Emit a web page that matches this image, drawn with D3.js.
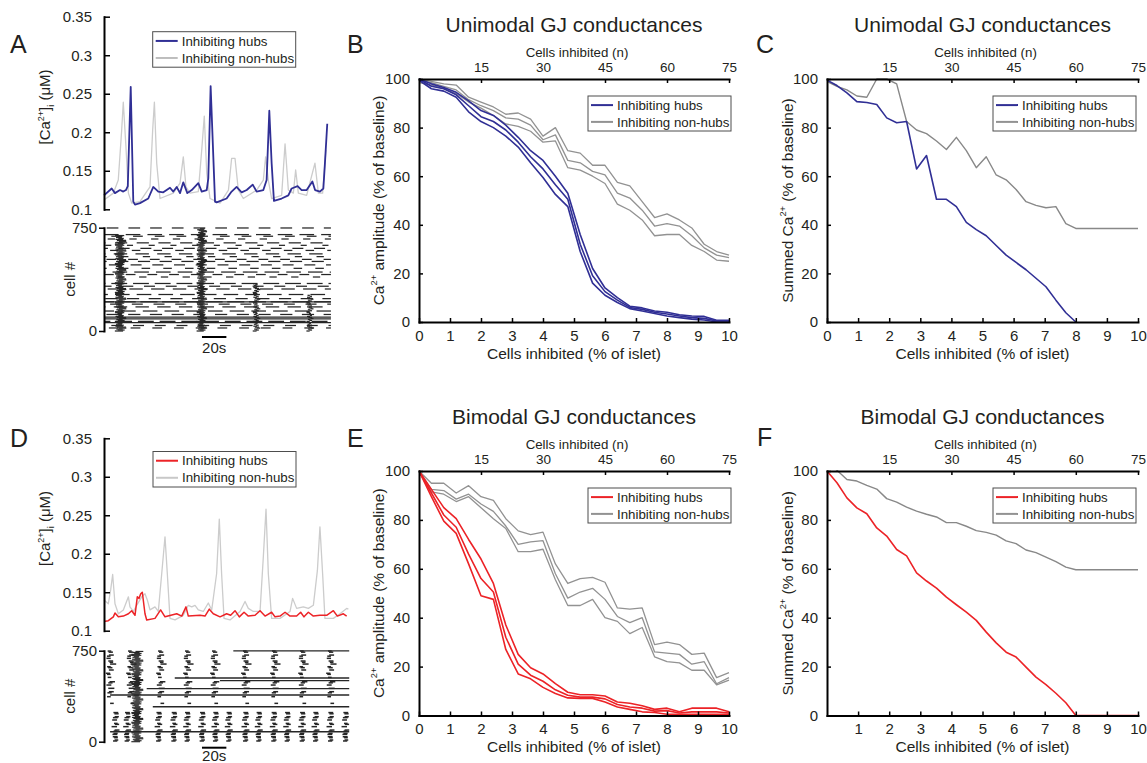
<!DOCTYPE html>
<html><head><meta charset="utf-8">
<script src="https://cdn.jsdelivr.net/npm/d3@7"></script>
<style>
body{margin:0;background:#fff;}
svg{display:block;}
</style></head><body>
<svg id="fig" width="1147" height="763"></svg>
<script>
// ---------------- DATA ----------------
const pctB = [0,0.4,0.8,1.2,1.6,2,2.4,2.8,3.2,3.6,4,4.4,4.8,5.2,5.6,6,6.4,6.8,7.2,7.6,8,8.4,8.8,9.2,9.6,10];
const B_hubU = [100,98,96.5,94.5,91,87,85,81,76,70.5,66.5,60,53,36,22,14,10,6.5,5.8,4.5,4,3,2.5,2.3,0.7,0.7];
const B_hubM = [100,97,96,93.5,89,84.5,82.5,79,74,68,63,56.5,50.5,32,19,12.5,9,6,5.2,4,3.3,2.5,1.8,1.5,0.4,0.4];
const B_hubL = [99.5,96,95,92.5,86.5,82.5,80,76.5,72,65.5,59.5,52.5,47.5,29,16,11,8,5.5,4.5,3.5,2.5,1.8,1.2,0.8,0,0];
const B_nhU = [100,99,98,97.5,92.5,90.5,88.5,85.5,86,83.5,76.5,80,70.5,69.5,64.5,64.5,57.5,56,49.5,43,44.5,42,38.7,32,29,27.5];
const B_nhM = [99.5,98.5,97,95.5,91.5,89,87,84,83.5,81,75,77,66.5,65.5,62,60.5,53,51,46,39.5,40.5,39.5,35.5,30.5,27.5,26.5];
const B_nhL = [98.5,97.5,96,94,90.5,88,85,81.5,80.5,78.5,74,74.5,63.5,62.5,60,57,48.5,46,42,35.5,36,36,31.5,29,25.5,25];

const E_hubU = [100,92.5,85,80.5,72,64,54,37,25,19.5,17,13,9.5,8.5,8.5,8,5.5,5,4,2.5,3,1.5,3,3,3,1.5];
const E_hubM = [100,91,82,77,66,56,50.5,32,21,16.5,14,10.5,8.3,7.5,7.5,6.8,4.5,3.5,3,1.8,2,1,1.5,1.5,1.5,1];
const E_hubL = [100,89.5,79.5,74.5,62,49,47.5,27,17,15,11.5,9,7.2,7,7,5.5,3.5,2.5,1.5,1.2,0.5,0.5,0.5,0.5,0.5,0.5];
const E_nhU = [100,95,95,91,94,89.5,88,80.5,75.5,74,75,62,54,56,56.5,54.5,44,43.5,44,29,30,29,25,25.5,15.5,17.5];
const E_nhM = [100,92.5,92,88.5,90.5,86.5,83.5,77.5,70,71,71.5,58,48,50.5,52,47.5,40.5,38,40,26,25.5,25,21,22,13,15.5];
const E_nhL = [100,91.5,90.5,87.5,89.5,85,80.5,76.5,67,67,68,55.5,45,45,47.5,40,38.5,33.5,36,24,22,21.5,18.5,18.5,12.5,14.5];

const pctC = [0,0.32,0.64,0.96,1.28,1.6,1.92,2.24,2.56,2.88,3.2,3.52,3.84,4.16,4.48,4.8,5.12,5.44,5.76,6.08,6.4,6.72,7.04,7.36,7.68,8,10];
const C_hub = [99.5,97.3,94.3,90.7,90.3,89.5,84,82,82.5,63,68.5,50.5,50.5,47.5,41,38,35.5,31.5,27.5,24.5,21.5,18,14.5,9,3.8,0];
const C_nh = [99,97,95.5,93,92.5,100,100,98,82.5,79,77.5,74.5,71,76,70.5,63.5,68,60.5,58.5,54.5,49.5,48,47,47.5,40.5,38.5,38.5];
const F_hub = [100,95.2,89,84.9,82.5,76.7,73.4,67.9,65.3,58.3,55,52.1,48.4,45.3,42.3,38.9,34.1,29.7,25.9,23.9,19.8,15.7,12.6,9.1,5.2,0,0];
const F_nh = [103.5,100.3,96.5,95.9,94.1,92.6,88.7,87.3,85.2,83.6,82.3,81.2,78.9,78.9,77.4,75.6,74.9,73.8,71.4,70.3,67.7,66.6,64.8,62.9,60.7,59.6,59.6];

const pctTicks = [0,1,2,3,4,5,6,7,8,9,10];
const pctTicksF = [1,2,3,4,5,6,7,8,9,10];
const nTicks = [15,30,45,60,75];
const yTicks = [0,20,40,60,80,100];
const caTicks = [0.1,0.15,0.2,0.25,0.3,0.35];
const cellTicks = [0,750];

const tHubA = [0,6.3,9.0,13.1,15.8,18.0,19.5,21.9,24.0,25.4,29.5,36.3,40.4,44.5,48.6,54.1,56.8,59.6,62.3,65.0,68.3,71.9,77.3,80.1,84.2,85.5,87.4,91.0,92.3,100.5,104.6,108.7,112.8,117.0,121.9,125.1,130.6,133.3,135.5,137.4,139.3,145.6,151.1,153.8,158.7,162.0,166.1,170.8,173.0,177.0,179.8,181.1,183.0];
const vHubA = [0.118,0.127,0.121,0.125,0.123,0.125,0.130,0.259,0.110,0.106,0.108,0.114,0.129,0.123,0.122,0.128,0.123,0.129,0.121,0.135,0.121,0.125,0.134,0.123,0.125,0.140,0.260,0.110,0.109,0.114,0.123,0.129,0.122,0.125,0.132,0.123,0.125,0.138,0.228,0.160,0.111,0.114,0.118,0.127,0.130,0.125,0.125,0.136,0.125,0.123,0.127,0.160,0.211];
const tGreyA = [0,7.7,11.7,14.5,15.8,18,20,22.7,29.5,35,37.7,39.9,41.3,43.2,45.9,56.8,62.3,65,67.2,70.5,77.3,80.1,82.2,84.2,86.9,95.1,102,104.6,107.4,110.1,114.2,125.1,130.6,132.5,134.7,137.4,145.6,148.4,151.1,155.2,157.1,159.3,166.1,172.9,175.7,179.2,181.9];
const vGreyA = [0.112,0.121,0.138,0.203,0.239,0.181,0.121,0.108,0.110,0.123,0.129,0.203,0.239,0.160,0.114,0.121,0.134,0.168,0.129,0.121,0.123,0.177,0.221,0.147,0.114,0.108,0.125,0.166,0.166,0.125,0.114,0.125,0.138,0.168,0.138,0.114,0.118,0.185,0.125,0.121,0.151,0.121,0.118,0.160,0.121,0.121,0.177];

const tGreyD = [0,3.55,5.46,7.1,9.0,11.75,15.85,20,21.3,24,26.8,30.9,33.6,35.5,37.7,41.8,44.5,47.3,50,51.9,54.1,58.2,65,69.1,71.9,74.6,77.3,81.4,85.5,88.3,92.3,94.5,96.4,98.4,103.3,111.5,115.6,118.3,122.4,127.9,130.6,132.8,134.7,137.4,144.3,152.5,154.6,157.9,163.4,167.5,171.6,174.9,177,179.2,181.1,188,193.4,198.9,200.3];
const vGreyD = [0.140,0.135,0.153,0.173,0.135,0.122,0.127,0.144,0.131,0.125,0.133,0.144,0.148,0.140,0.127,0.131,0.125,0.174,0.222,0.174,0.116,0.114,0.120,0.133,0.131,0.133,0.127,0.125,0.136,0.127,0.174,0.245,0.174,0.116,0.114,0.125,0.138,0.129,0.125,0.125,0.196,0.258,0.174,0.116,0.116,0.125,0.142,0.129,0.131,0.129,0.133,0.178,0.235,0.174,0.116,0.116,0.122,0.129,0.128];
const tRedD = [0,3.55,7.65,9.0,11.75,15.85,20,22.7,25.4,27.3,28.7,30.1,31.4,33.6,35,41.8,46.4,50,59.6,63.7,67.2,69.1,78.7,82.8,86.3,89.6,95.1,100.5,103.8,107.4,110.9,114.8,118.3,123.8,127.9,132,137.4,140.2,144.3,148.4,152.5,157.9,161.2,163.9,167.5,171.6,177,182.5,188,191.3,196.2,198.9];
const vRedD = [0.112,0.113,0.118,0.123,0.118,0.119,0.122,0.126,0.120,0.144,0.142,0.148,0.150,0.122,0.114,0.116,0.127,0.118,0.122,0.119,0.131,0.119,0.120,0.119,0.128,0.122,0.118,0.122,0.120,0.126,0.118,0.124,0.119,0.120,0.126,0.119,0.124,0.118,0.119,0.124,0.119,0.119,0.124,0.118,0.124,0.119,0.120,0.120,0.126,0.119,0.122,0.119];

const rowsA = [748,700,688,668,640,622,600,585,560,540,520,505,480,455,428,410,392,345,325,305,265,235,212,195,175,145,120,70,40,22];
const phaseA = [2.2,0,6,3,9,1,12,5,8,14,2,10,4,13,7,0,11,6,15,3,9,1,12,5,8,14,2,10,6,4];
const lenA = [9.6,12,8,6,10,5,9,7,11,6,8,10,9,7,12,8,6,13,9,11,12,10,14,9,11,12,10,13,9,8];
const periodA = 17.8;
const longA = [[100,0,186],[88,0,186],[60,0,186],[212,0,186]];
const burstsA = [[10.5,18,0,700],[77.5,84,0,745],[123.5,127,0,350],[167.5,170.5,0,260]];
const rowsD = [747,738,714,705,687,665,655,640,618,610,591,564,555,530,494,485,467,440,412,403,371,316,240,230,206,198,179,151,143,124,96,88,69,60,41,33,14,6];
const offD = [0,0.8,1,-0.6,-1,0.5,1.5,2,-0.5,0.4,1,-1.5,-0.6,0,1.5,0.5,-1,0.5,1,-0.2,-0.5,2,0,0.8,1,-0.4,-1,0.5,1.2,-1.5,1,0.2,0,-0.8,-0.5,0.6,1,-0.3];
const lenD = [3,3.5,4,3,3.5,4,3,5,3,3.5,4,3.5,3,3,4.5,3.5,4,5,4,3.5,3,3,4,3.5,3.5,4,4,3,3.5,4.5,4,3,3.5,4,4,3,3,3.5];
const colsUpperD = [3,19.7,44.3,66.4,88.5,113.9,137.7,160.7,183.6];
const colsLowerD = [7.7,17.2,43,55.5,66.4,78.7,89.6,100.5,114.2,125.1,137.4,148.4,160.7,171.6,183.9,196.2];
const longD = [[748,106,201],[525,58,201],[503,95,201],[438,35,201],[385,5,201],[288,40,201],[82,5,201]];
const burstsD = [[24,32,0,750]];
const jitter = [-1.6,0.8,-0.4,1.8,0.1,-1.1,1.2,-0.7,0.5,-1.4];
const fillPart = [0.9,0.65,1,0.75,0.55,0.85,0.7,1,0.6,0.8];
const scaleBar = [80.3, 20];

// ---------------- DRAWING ----------------
const FONT = '"Liberation Sans", Arial, Helvetica, sans-serif';
const INK = '#231f20';
const BLUE = '#302f95', RED = '#ec2327', GREY = '#929292', LGREY = '#cccccc';
const svg = d3.select('#fig').attr('font-family', FONT);
svg.append('rect').attr('width',1147).attr('height',763).attr('fill','#fff');

function styleAxis(sel, fs){
  sel.attr('font-family', FONT).attr('font-size', fs);
  sel.select('.domain').attr('stroke','#000').attr('stroke-width',2).attr('stroke-linecap','square');
  sel.selectAll('.tick line').attr('stroke','#000').attr('stroke-width',1.5);
  sel.selectAll('.tick text').attr('fill', INK);
}
function txt(x, y, s, fs, anchor){
  return svg.append('text').attr('x',x).attr('y',y).attr('font-size',fs)
    .attr('text-anchor',anchor||'middle').attr('fill',INK).text(s);
}
function rotLabel(cx, cy, fs, parts){
  const t = svg.append('text').attr('transform',`translate(${cx},${cy}) rotate(-90)`)
    .attr('text-anchor','middle').attr('font-size',fs).attr('fill',INK);
  let shift = 0;
  parts.forEach(([s,type])=>{
    const sp = t.append('tspan').text(s);
    let target = 0, size = fs;
    if(type==='sup'){ target = -fs*0.42; size = fs*0.6; }
    if(type==='sub'){ target = fs*0.25; size = fs*0.6; }
    sp.attr('dy', target - shift).attr('font-size', size);
    shift = target;
  });
}
function legend(x, y, w, h, items, fs){
  svg.append('rect').attr('x',x).attr('y',y).attr('width',w).attr('height',h)
    .attr('fill','#fff').attr('stroke','#4d4d4d').attr('stroke-width',1);
  const rows = [y + h*0.26, y + h*0.74];
  items.forEach((it,i)=>{
    svg.append('line').attr('x1',x+3).attr('x2',x+25).attr('y1',rows[i]).attr('y2',rows[i])
      .attr('stroke',it.color).attr('stroke-width',2);
    svg.append('text').attr('x',x+29).attr('y',rows[i]).attr('dy','0.35em').attr('font-size',fs)
      .attr('fill',INK).text(it.label);
  });
}
function curvePanel(o){
  const x = d3.scaleLinear().domain([0,10]).range([o.x0,o.x1]);
  const xn = d3.scaleLinear().domain([0,75]).range([o.x0,o.x1]);
  const y = d3.scaleLinear().domain([0,100]).range([o.y1,o.y0]);
  const cid = 'clip'+o.id;
  svg.append('clipPath').attr('id',cid).append('rect')
    .attr('x',o.x0).attr('y',o.y0-1).attr('width',o.x1-o.x0+1).attr('height',o.y1-o.y0+3);
  const line = d3.line().x(d=>x(d[0])).y(d=>y(d[1]));
  const lg = svg.append('g').attr('clip-path',`url(#${cid})`);
  o.series.forEach(s=>{
    lg.append('path').datum(s.v.map((v,i)=>[s.x[i],v])).attr('d',line)
      .attr('fill','none').attr('stroke',s.color).attr('stroke-width',s.w).attr('stroke-linejoin','round');
  });
  svg.append('g').attr('transform',`translate(0,${o.y1})`)
    .call(d3.axisBottom(x).tickValues(o.xticks).tickSizeInner(-4).tickSizeOuter(0).tickPadding(8))
    .call(styleAxis,15);
  svg.append('g').attr('transform',`translate(0,${o.y0})`)
    .call(d3.axisTop(xn).tickValues(nTicks).tickSizeInner(-4).tickSizeOuter(0).tickPadding(7))
    .call(styleAxis,13.5);
  svg.append('g').attr('transform',`translate(${o.x0},0)`)
    .call(d3.axisLeft(y).tickValues(yTicks).tickSizeInner(-4).tickSizeOuter(0).tickPadding(9))
    .call(styleAxis,15);
  const cx = (o.x0+o.x1)/2;
  txt(cx, o.y0-47, o.title, 21);
  txt(cx+3, o.y0-22, 'Cells inhibited (n)', 13.3);
  txt(cx, o.y1+36.5, 'Cells inhibited (% of islet)', 15.5);
  rotLabel(o.ylx, (o.y0+o.y1)/2, 15.5, o.ylabel);
  legend(o.lx, o.ly, 143, 35, o.legend, 13.3);
}
function tracePanel(o){
  const x = d3.scaleLinear().domain([0,o.T]).range([104, 104+o.T*1.22]);
  const y = d3.scaleLinear().domain([0.1,0.35]).range([o.yb, o.yt]);
  const line = d3.line().x((d)=>x(d[0])).y(d=>y(d[1]));
  o.series.forEach(s=>{
    svg.append('path').datum(s.t.map((t,i)=>[t,s.v[i]])).attr('d',line)
      .attr('fill','none').attr('stroke',s.color).attr('stroke-width',s.w).attr('stroke-linejoin','round');
  });
  svg.append('g').attr('transform','translate(104,0)')
    .call(d3.axisLeft(y).tickValues(caTicks).tickSizeInner(-6).tickSizeOuter(0).tickPadding(12).tickFormat(d=>String(d)))
    .call(styleAxis,15);
  rotLabel(50, (o.yt+o.yb)/2 - 6, 15, [['[Ca',''],['2+','sup'],[']',''],['i','sub'],[' (μM)','']]);
  legend(o.lx, o.ly, 143, 35.5, o.legend, 13.3);
  const yr = d3.scaleLinear().domain([0,750]).range([o.rb, o.rt]);
  svg.append('g').selectAll('line').data(o.segs).join('line')
    .attr('x1',d=>x(Math.max(0,d.t0))).attr('x2',d=>x(Math.min(o.T,d.t1)))
    .attr('y1',d=>yr(d.c)).attr('y2',d=>yr(d.c))
    .attr('stroke','#262626').attr('stroke-width',d=>d.w||1.25);
  svg.append('g').attr('transform','translate(104,0)')
    .call(d3.axisLeft(yr).tickValues(cellTicks).tickSizeInner(5).tickSizeOuter(0).tickPadding(2))
    .call(styleAxis,15);
  rotLabel(75, (o.rt+o.rb)/2, 15, [['cell #','']]);
  const sb0 = x(scaleBar[0]), sb1 = x(scaleBar[0]+scaleBar[1]);
  svg.append('line').attr('x1',sb0).attr('x2',sb1).attr('y1',o.rb+6).attr('y2',o.rb+6)
    .attr('stroke','#000').attr('stroke-width',2);
  txt((sb0+sb1)/2, o.sbText, '20s', 15);
}
function burstMarks(s, bursts, step, w){
  bursts.forEach(([a,b,lo,hi])=>{
    d3.range(lo,hi,step).forEach((c,j)=>{
      const jt = jitter[j%jitter.length], fp = fillPart[(j*3)%fillPart.length];
      s.push({t0:a+jt, t1:a+jt+(b-a)*fp, c, w});
    });
  });
}
function segsA(){
  const s = [];
  rowsA.forEach((c,i)=>{
    for(let t=phaseA[i]-periodA; t<186; t+=periodA){ s.push({t0:t, t1:t+lenA[i], c}); }
  });
  longA.forEach(([c,a,b])=>s.push({t0:a,t1:b,c}));
  burstMarks(s, burstsA, 7, 1.25);
  return s.filter(d=>d.t1>0);
}
function segsD(){
  const s = [];
  rowsD.forEach((c,i)=>{
    (c>300 ? colsUpperD : colsLowerD).forEach(t=> s.push({t0:t+offD[i], t1:t+offD[i]+lenD[i], c, w:1.5}));
  });
  longD.forEach(([c,a,b])=>s.push({t0:a,t1:b,c,w:1.3}));
  burstMarks(s, burstsD, 8, 1.15);
  return s;
}

tracePanel({T:186, yt:16.7, yb:209.3, rt:227.7, rb:331, sbText:353,
  series:[{t:tGreyA,v:vGreyA,color:LGREY,w:1.3},{t:tHubA,v:vHubA,color:BLUE,w:1.8}],
  lx:152.7, ly:31.7, legend:[{label:'Inhibiting hubs',color:BLUE},{label:'Inhibiting non-hubs',color:'#bdbdbd'}],
  segs:segsA()});
tracePanel({T:201, yt:438.3, yb:630.7, rt:650.7, rb:741.7, sbText:761,
  series:[{t:tGreyD,v:vGreyD,color:LGREY,w:1.3},{t:tRedD,v:vRedD,color:RED,w:1.5}],
  lx:153, ly:451.5, legend:[{label:'Inhibiting hubs',color:RED},{label:'Inhibiting non-hubs',color:'#c8c8c8'}],
  segs:segsD()});

const caAmp = [['Ca',''],['2+','sup'],[' amplitude (% of baseline)','']];
const caSum = [['Summed Ca',''],['2+','sup'],[' (% of baseline)','']];

curvePanel({id:'B', x0:419, x1:729, y0:79, y1:322, xticks:pctTicks, title:'Unimodal GJ conductances',
  ylabel:caAmp, ylx:383.5, lx:588, ly:96,
  legend:[{label:'Inhibiting hubs',color:BLUE},{label:'Inhibiting non-hubs',color:GREY}],
  series:[
    {x:pctB,v:B_nhU,color:GREY,w:1.3},{x:pctB,v:B_nhM,color:GREY,w:1.3},{x:pctB,v:B_nhL,color:GREY,w:1.3},
    {x:pctB,v:B_hubU,color:BLUE,w:1.6},{x:pctB,v:B_hubM,color:BLUE,w:1.6},{x:pctB,v:B_hubL,color:BLUE,w:1.6}]});
curvePanel({id:'C', x0:827, x1:1138, y0:79, y1:322, xticks:pctTicks, title:'Unimodal GJ conductances',
  ylabel:caSum, ylx:792.5, lx:993, ly:96,
  legend:[{label:'Inhibiting hubs',color:BLUE},{label:'Inhibiting non-hubs',color:GREY}],
  series:[{x:pctC,v:C_nh,color:'#888',w:1.4},{x:pctC.slice(0,C_hub.length),v:C_hub,color:BLUE,w:1.6}]});
curvePanel({id:'E', x0:419, x1:729, y0:471, y1:715.5, xticks:pctTicks, title:'Bimodal GJ conductances',
  ylabel:caAmp, ylx:383.5, lx:588, ly:488,
  legend:[{label:'Inhibiting hubs',color:RED},{label:'Inhibiting non-hubs',color:GREY}],
  series:[
    {x:pctB,v:E_nhU,color:GREY,w:1.3},{x:pctB,v:E_nhM,color:GREY,w:1.3},{x:pctB,v:E_nhL,color:GREY,w:1.3},
    {x:pctB,v:E_hubU,color:RED,w:1.6},{x:pctB,v:E_hubM,color:RED,w:1.6},{x:pctB,v:E_hubL,color:RED,w:1.6}]});
curvePanel({id:'F', x0:827, x1:1138, y0:471, y1:715.5, xticks:pctTicksF, title:'Bimodal GJ conductances',
  ylabel:caSum, ylx:792.5, lx:993, ly:488,
  legend:[{label:'Inhibiting hubs',color:RED},{label:'Inhibiting non-hubs',color:GREY}],
  series:[{x:pctC,v:F_nh,color:'#888',w:1.4},{x:pctC,v:F_hub,color:RED,w:1.6}]});

[['A',10,53],['B',347,53],['C',756,53],['D',10,447],['E',347,447],['F',757,446]].forEach(([l,x,y])=>txt(x,y,l,25,'start'));
</script></body></html>
